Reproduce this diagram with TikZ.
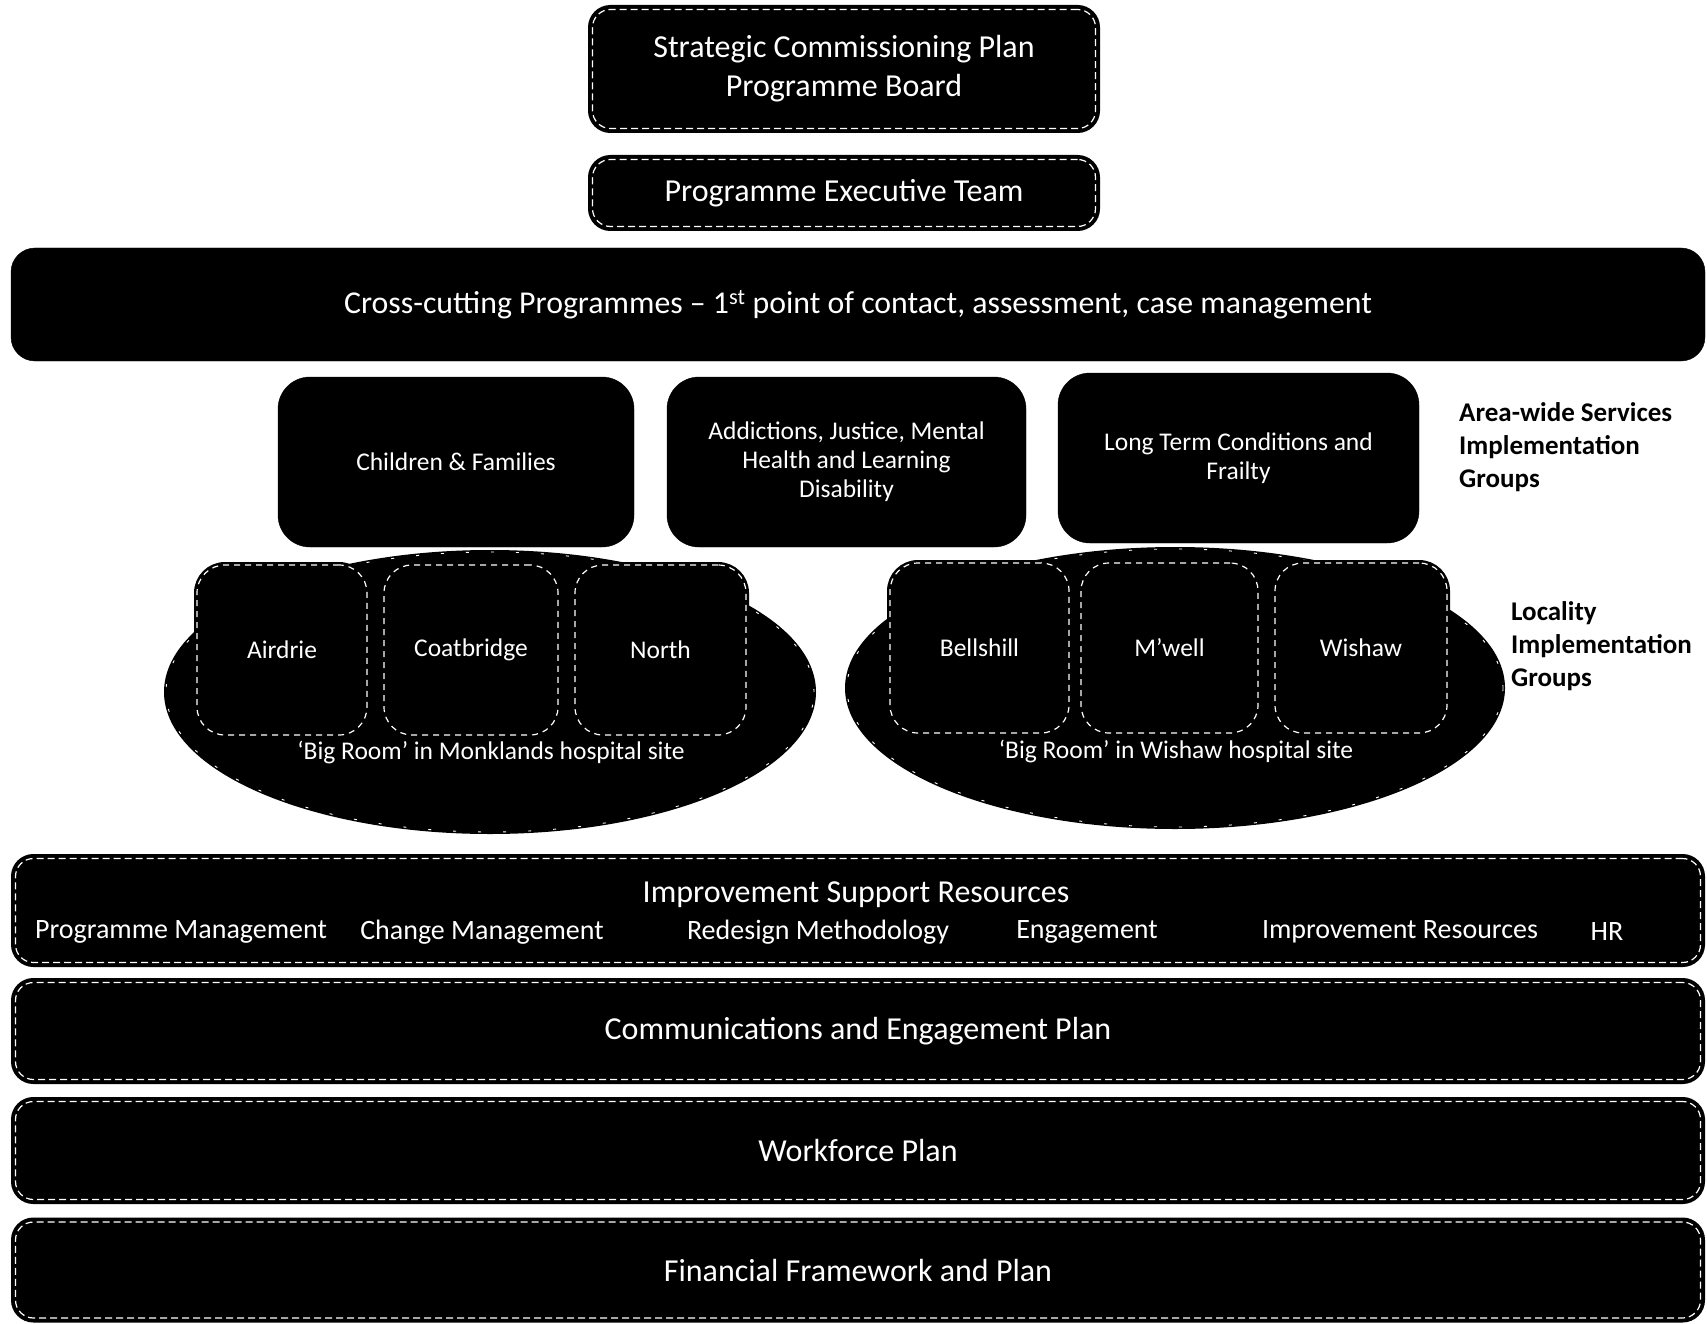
\documentclass[tikz,border=0pt]{standalone}
\usepackage{fontspec}
\setmainfont{Carlito}
\usetikzlibrary{shapes.geometric}
\begin{document}
\begin{tikzpicture}[x=1pt,y=-1pt,
  solidbox/.style={fill=black, draw=black, text=white, align=center, inner sep=0pt, rounded corners=26pt},
  dashbox/.style={fill=black, draw=white, line width=1.2pt, dash pattern=on 7pt off 4pt, text=white, align=center, inner sep=0pt, rounded corners=18pt, preaction={draw=black, solid, line width=9pt}},
  locbox/.style={fill=black, draw=white, line width=1.2pt, dash pattern=on 6pt off 5pt, text=white, align=center, inner sep=0pt, rounded corners=28pt, preaction={draw=black, solid, line width=6pt}},
  roomell/.style={ellipse, fill=black, draw=white, line width=0.9pt, dash pattern=on 3pt off 22pt, inner sep=0pt, preaction={draw=black, solid, line width=4pt}},
  fbig/.style={font=\fontsize{32}{39}\selectfont},
  fmid/.style={font=\fontsize{32}{38}\selectfont},
  fitem/.style={font=\fontsize{28}{33}\selectfont},
  fsmall/.style={font=\fontsize{25.5}{29}\selectfont},
  flabel/.style={font=\bfseries\fontsize{27}{33}\selectfont, text=black, align=left, anchor=west, inner sep=0pt},
  wtext/.style={text=white, inner sep=0pt, align=center}
]
\useasboundingbox (0,0) rectangle (1707,1324);

% top boxes
\node[dashbox, fbig, minimum width=503pt, minimum height=119pt] (board) at (844,69) {Strategic Commissioning Plan\\Programme Board};
\node[dashbox, fmid, minimum width=503pt, minimum height=67pt] (pet) at (844,193) {Programme Executive Team};

% cross-cutting
\node[solidbox, font=\fontsize{31.8}{38}\selectfont, minimum width=1694pt, minimum height=113pt, rounded corners=24pt] (cross) at (858,304.5) {Cross-cutting Programmes -- 1\textsuperscript{st} point of contact, assessment, case management};

% area-wide services
\node[solidbox, fsmall, minimum width=356pt, minimum height=170pt, rounded corners=32pt] (child) at (456,462) {Children \& Families};
\node[solidbox, fsmall, minimum width=359pt, minimum height=170pt, rounded corners=32pt] (addict) at (846.5,462) {Addictions, Justice, Mental\\Health and Learning\\Disability};
\node[solidbox, fsmall, minimum width=361pt, minimum height=170pt, rounded corners=32pt] (ltc) at (1238.5,458) {Long Term Conditions and\\Frailty};
\node[flabel] (arealbl) at (1459,447) {Area-wide Services\\Implementation\\Groups};

% big rooms
\node[roomell, minimum width=648pt, minimum height=280pt] (monk) at (490,692) {};
\node[roomell, minimum width=656pt, minimum height=278pt] (wish) at (1175,688) {};

\node[locbox, fsmall, minimum width=170pt, minimum height=170pt] (airdrie) at (282,650) {Airdrie};
\node[locbox, fsmall, minimum width=174pt, minimum height=170pt] (coat) at (471,650) {Coatbridge};
\node[locbox, fsmall, minimum width=171pt, minimum height=170pt] (north) at (660.5,650) {North};
\node[wtext, fsmall] (monklbl) at (491,752) {‘Big Room’ in Monklands hospital site};

\node[locbox, fsmall, minimum width=179pt, minimum height=170pt] (bells) at (979.5,648) {Bellshill};
\node[locbox, fsmall, minimum width=177pt, minimum height=170pt] (mwell) at (1169.5,648) {M’well};
\node[locbox, fsmall, minimum width=172pt, minimum height=170pt] (wishaw) at (1361,648) {Wishaw};
\node[wtext, fsmall] (wishlbl) at (1176,751) {‘Big Room’ in Wishaw hospital site};

\node[flabel] (loclbl) at (1511,646) {Locality\\Implementation\\Groups};

% improvement support
\node[dashbox, minimum width=1685pt, minimum height=104pt] (impr) at (858,910.5) {};
\node[wtext, fmid] (imprtitle) at (856,895) {Improvement Support Resources};
\node[wtext, fitem] (i1) at (181,932) {Programme Management};
\node[wtext, fitem] (i2) at (482,932) {Change Management};
\node[wtext, fitem] (i3) at (818,932) {Redesign Methodology};
\node[wtext, fitem] (i4) at (1087,932) {Engagement};
\node[wtext, fitem] (i5) at (1400,932) {Improvement Resources};
\node[wtext, fitem] (i6) at (1607,932) {HR};

% plans
\node[dashbox, fmid, minimum width=1685pt, minimum height=97pt] (comms) at (858,1031) {Communications and Engagement Plan};
\node[dashbox, fmid, minimum width=1685pt, minimum height=98pt] (work) at (858,1150.5) {Workforce Plan};
\node[dashbox, fmid, minimum width=1685pt, minimum height=96pt] (fin) at (858,1270) {Financial Framework and Plan};
\end{tikzpicture}
\end{document}
